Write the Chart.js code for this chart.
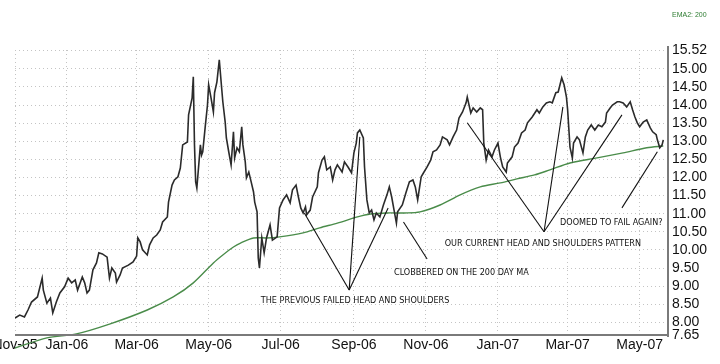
<!DOCTYPE html>
<html>
<head>
<meta charset="utf-8">
<script src="https://cdn.jsdelivr.net/npm/chart.js@4"></script>
<style>
  html, body { margin: 0; padding: 0; background: #fff; }
  #chart { display: block; }
</style>
</head>
<body>
<canvas id="chart" width="720" height="364"></canvas>
<script>
// x values are calendar days counted from 2005-11-01
const xTickDays = [17, 61, 120, 181, 242, 304, 365, 426, 485, 546];
const xTickLabels = ['Nov-05', 'Jan-06', 'Mar-06', 'May-06', 'Jul-06', 'Sep-06', 'Nov-06', 'Jan-07', 'Mar-07', 'May-07'];
const yTicks = [7.65, 8, 8.5, 9, 9.5, 10, 10.5, 11, 11.5, 12, 12.5, 13, 13.5, 14, 14.5, 15, 15.52];

const priceDays = [
  17, 21, 25, 28, 31, 36, 40, 41, 44, 47,
  49, 52, 55, 59, 62, 65, 68, 70, 74, 76,
  78, 80, 83, 86, 88, 91, 95, 97, 99, 102,
  103, 106, 108, 113, 117, 120, 121, 123, 125, 129,
  131, 134, 137, 140, 142, 146, 147, 150, 152, 155,
  157, 159, 163, 164, 167, 168, 169, 170, 171, 174,
  175, 176, 178, 180, 181, 183, 185, 186, 188, 190,
  192, 193, 195, 196, 198, 200, 202, 203, 205, 207,
  209, 210, 212, 213, 215, 217, 219, 220, 222, 223,
  224, 226, 228, 230, 233, 235, 239, 241, 244, 247,
  250, 252, 255, 257, 259, 261, 263, 264, 267, 269,
  273, 274, 277, 279, 281, 284, 286, 288, 290, 294,
  296, 299, 302, 304, 306, 307, 309, 312, 313, 315,
  317, 319, 321, 323, 326, 329, 332, 334, 336, 338,
  340, 341, 345, 348, 351, 354, 356, 358, 361, 363,
  366, 369, 371, 374, 377, 379, 383, 385, 388, 391,
  393, 396, 399, 400, 403, 405, 408, 411, 413, 414,
  416, 418, 421, 423, 426, 428, 430, 433, 434, 438,
  440, 443, 446, 449, 451, 455, 459, 461, 464, 467,
  470, 472, 475, 477, 480, 482, 484, 485, 487, 489,
  490, 493, 495, 498, 500, 502, 505, 508, 511, 514,
  517, 518, 521, 523, 527, 529, 532, 535, 538, 540,
  542, 544, 546, 549, 552, 555, 557, 560, 561, 563,
  565, 566
];
const priceValues = [
  8.12, 8.20, 8.15, 8.34, 8.56, 8.70, 9.22, 8.89, 8.53, 8.67,
  8.26, 8.56, 8.81, 8.98, 9.22, 9.09, 9.17, 8.89, 9.25, 9.09,
  8.81, 8.89, 9.45, 9.64, 9.92, 9.89, 9.80, 9.22, 9.50, 9.36,
  9.11, 9.31, 9.50, 9.58, 9.67, 9.83, 10.33, 10.22, 10.00, 9.86,
  10.14, 10.33, 10.41, 10.55, 10.77, 10.91, 11.32, 11.79, 11.93, 12.02,
  12.26, 12.90, 12.98, 13.73, 14.20, 14.78, 12.90, 11.88, 11.71, 12.90,
  12.62, 12.71, 13.37, 14.00, 14.56, 14.20, 13.81, 14.34, 14.64, 15.25,
  14.47, 14.09, 13.53, 13.09, 12.71, 12.35, 13.26, 12.54, 12.82, 12.71,
  13.40, 12.90, 12.43, 11.99, 12.15, 11.88, 11.60, 11.32, 11.05, 9.78,
  9.50, 10.33, 9.92, 10.33, 10.69, 10.27, 10.36, 11.16, 11.38, 11.52,
  11.30, 11.66, 11.79, 11.46, 11.16, 11.02, 11.19, 10.97, 11.10, 11.46,
  11.74, 12.13, 12.48, 12.57, 12.21, 12.29, 11.93, 12.21, 12.35, 12.15,
  12.43, 12.29, 12.13, 12.68, 12.95, 13.23, 13.31, 13.09, 12.29, 11.38,
  11.02, 11.10, 10.83, 11.02, 10.91, 11.24, 11.52, 11.74, 11.46, 11.10,
  10.74, 11.05, 11.24, 11.57, 11.88, 11.93, 11.74, 11.38, 12.02, 12.13,
  12.29, 12.48, 12.71, 12.76, 12.90, 13.12, 13.04, 12.90, 13.12, 13.31,
  13.64, 13.81, 14.06, 14.22, 13.78, 13.92, 13.81, 13.92, 13.87, 12.95,
  12.48, 12.76, 12.57, 12.76, 12.95, 12.57, 12.29, 12.15, 12.40, 12.57,
  12.84, 12.95, 13.23, 13.31, 13.51, 13.67, 13.87, 13.78, 13.95, 14.06,
  14.09, 14.06, 14.34, 14.36, 14.75, 14.56, 14.22, 13.87, 12.84, 12.54,
  12.95, 13.12, 13.04, 12.68, 13.12, 13.31, 13.45, 13.31, 13.45, 13.40,
  13.53, 13.78, 13.92, 14.00, 14.09, 14.09, 14.06, 13.95, 14.09, 13.87,
  13.67, 13.51, 13.40, 13.53, 13.59, 13.37, 13.26, 13.18, 13.04, 12.82,
  12.90, 13.04
];

// 200 day EMA
const emaDays = [17, 44, 69, 97, 129, 151, 168, 185, 193, 202, 208, 219, 230, 241, 261, 275, 290, 307, 318, 332, 347, 360, 377, 394, 411, 428, 442, 457, 470, 487, 510, 532, 552, 566];
const emaValues = [7.29, 7.57, 7.68, 7.95, 8.34, 8.70, 9.09, 9.64, 9.86, 10.08, 10.19, 10.33, 10.33, 10.36, 10.47, 10.61, 10.74, 10.91, 10.99, 11.02, 11.02, 11.05, 11.24, 11.52, 11.74, 11.85, 11.96, 12.07, 12.21, 12.40, 12.54, 12.68, 12.82, 12.87];

// annotation segments: [day1, value1, day2, value2]
const noteLines = [
  [300, 8.89, 262, 11.02], [300, 8.89, 309, 13.12], [300, 8.89, 333, 11.16],
  [346, 10.77, 366, 9.75],
  [465, 10.50, 400, 13.51], [465, 10.50, 481, 13.95], [465, 10.50, 531, 13.73],
  [531, 11.16, 561, 12.71]
];
const noteTexts = ['THE PREVIOUS FAILED HEAD AND SHOULDERS', 'CLOBBERED ON THE 200 DAY MA', 'OUR CURRENT HEAD AND SHOULDERS PATTERN', 'DOOMED TO FAIL AGAIN?'];
const noteDays = [305, 395, 464, 522];
const noteValues = [8.60, 9.38, 10.18, 10.74];

const toPoints = (xs, ys) => xs.map((x, i) => ({ x: x, y: ys[i] }));

const notesPlugin = {
  id: 'notes',
  afterDatasetsDraw(chart) {
    const { ctx, chartArea: a, scales: { x, y } } = chart;
    ctx.save();
    // solid axis lines on the bottom and right
    ctx.strokeStyle = '#7a7a7a';
    ctx.lineWidth = 2;
    ctx.beginPath();
    ctx.moveTo(a.left, a.bottom);
    ctx.lineTo(a.right, a.bottom);
    ctx.moveTo(a.right, a.top - 4);
    ctx.lineTo(a.right, a.bottom + 2);
    ctx.stroke();

    ctx.strokeStyle = '#111';
    ctx.lineWidth = 1.1;
    noteLines.forEach(l => {
      ctx.beginPath();
      ctx.moveTo(x.getPixelForValue(l[0]), y.getPixelForValue(l[1]));
      ctx.lineTo(x.getPixelForValue(l[2]), y.getPixelForValue(l[3]));
      ctx.stroke();
    });
    ctx.fillStyle = '#111';
    ctx.font = '9px "DejaVu Sans Condensed", "Liberation Sans Narrow", sans-serif';
    ctx.textAlign = 'center';
    ctx.textBaseline = 'middle';
    noteTexts.forEach((t, i) => {
      ctx.fillText(t, x.getPixelForValue(noteDays[i]), y.getPixelForValue(noteValues[i]));
    });
    ctx.fillStyle = '#2e7d32';
    ctx.font = '7px "Liberation Sans", Arial, sans-serif';
    ctx.textAlign = 'left';
    ctx.fillText('EMA2: 200', 672, 15);
    ctx.restore();
  }
};

new Chart(document.getElementById('chart'), {
  type: 'line',
  data: {
    datasets: [
      {
        label: 'Price',
        data: toPoints(priceDays, priceValues),
        borderColor: '#2b2b2b',
        borderWidth: 1.6,
        pointRadius: 0,
        tension: 0
      },
      {
        label: 'EMA2: 200',
        data: toPoints(emaDays, emaValues),
        borderColor: '#4a8c4a',
        borderWidth: 1.4,
        pointRadius: 0,
        tension: 0.3,
        clip: false
      }
    ]
  },
  options: {
    responsive: false,
    animation: false,
    devicePixelRatio: 1,
    layout: { padding: { left: 15, top: 50, right: 0, bottom: 0 } },
    plugins: { legend: { display: false }, tooltip: { enabled: false } },
    scales: {
      x: {
        type: 'linear',
        min: 17,
        max: 570,
        afterBuildTicks: s => { s.ticks = xTickDays.map(v => ({ value: v })); },
        afterFit: s => { s.height = 29; s.paddingLeft = 0; s.paddingRight = 0; },
        ticks: {
          autoSkip: false,
          maxRotation: 0,
          padding: 2,
          color: '#111',
          font: { family: 'Liberation Sans', size: 14 },
          callback: v => xTickLabels[xTickDays.indexOf(v)]
        },
        grid: { color: '#c4c4c4', drawTicks: false },
        border: { display: false, dash: [1, 3] }
      },
      y: {
        position: 'right',
        min: 7.65,
        max: 15.52,
        afterBuildTicks: s => { s.ticks = yTicks.map(v => ({ value: v })); },
        afterFit: s => { s.width = 52; },
        ticks: {
          autoSkip: false,
          padding: 4,
          color: '#111',
          font: { family: 'Liberation Sans', size: 14 },
          callback: v => Number(v).toFixed(2)
        },
        grid: { color: '#c4c4c4', drawTicks: false },
        border: { display: false, dash: [1, 3] }
      }
    }
  },
  plugins: [notesPlugin]
});
</script>
</body>
</html>
